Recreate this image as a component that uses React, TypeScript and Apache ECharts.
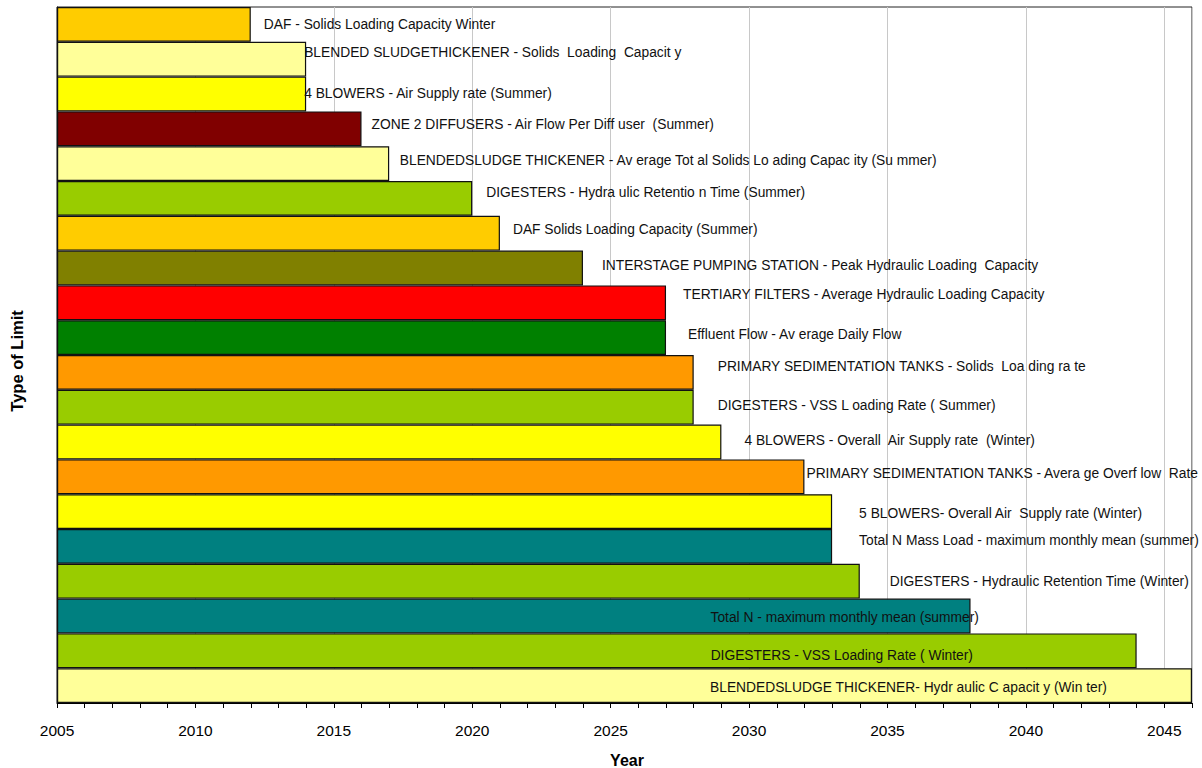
import React, { useEffect, useRef } from "react";
import * as echarts from "echarts";

// Limits, top to bottom, with the year each one is reached
const limitNames: string[] = [
  "DAF - Solids Loading Capacity Winter",
  "BLENDED SLUDGETHICKENER - Solids  Loading  Capacit y",
  "4 BLOWERS - Air Supply rate (Summer)",
  "ZONE 2 DIFFUSERS - Air Flow Per Diff user  (Summer)",
  "BLENDEDSLUDGE THICKENER - Av erage Tot al Solids Lo ading Capac ity (Su mmer)",
  "DIGESTERS - Hydra ulic Retentio n Time (Summer)",
  "DAF Solids Loading Capacity (Summer)",
  "INTERSTAGE PUMPING STATION - Peak Hydraulic Loading  Capacity",
  "TERTIARY FILTERS - Average Hydraulic Loading Capacity",
  "Effluent Flow - Av erage Daily Flow",
  "PRIMARY SEDIMENTATION TANKS - Solids  Loa ding ra te",
  "DIGESTERS - VSS L oading Rate ( Summer)",
  "4 BLOWERS - Overall  Air Supply rate  (Winter)",
  "PRIMARY SEDIMENTATION TANKS - Avera ge Overf low  Rate",
  "5 BLOWERS- Overall Air  Supply rate (Winter)",
  "Total N Mass Load - maximum monthly mean (summer)",
  "DIGESTERS - Hydraulic Retention Time (Winter)",
  "Total N - maximum monthly mean (summer)",
  "DIGESTERS - VSS Loading Rate ( Winter)",
  "BLENDEDSLUDGE THICKENER- Hydr aulic C apacit y (Win ter)",
];

const limitYears: number[] = [
  2012, 2014, 2014, 2016, 2017, 2020, 2021, 2024, 2027, 2027,
  2028, 2028, 2029, 2032, 2033, 2033, 2034, 2038, 2044, 2046,
];

const START_YEAR = 2005;
const END_YEAR = 2046;

// Fill colour of each bar
const barColors: string[] = [
  "#FFCC00", "#FFFF99", "#FFFF00", "#800000", "#FFFF99",
  "#99CC00", "#FFCC00", "#808000", "#FF0000", "#008000",
  "#FF9900", "#99CC00", "#FFFF00", "#FF9900", "#FFFF00",
  "#008080", "#99CC00", "#008080", "#99CC00", "#FFFF99",
];

// Label shift from the end of each bar, [dx, dy] in px
const labelShift: [number, number][] = [
  [13, 0], [-2, -7], [-2, -1], [10, -4], [10.6, -3],
  [14, -6], [13, -4], [19, -3], [17, -8], [22, -3],
  [24, -6], [24, -1.5], [23, -2], [2, -3], [27, 1.5],
  [27, -6], [30, 0], [-260, 1.5], [-426, 5], [-482, 2],
];

const FONT = '"Liberation Sans", Arial, sans-serif';

export default function App() {
  const ref = useRef<HTMLDivElement>(null);

  useEffect(() => {
    if (!ref.current) return;
    const chart = echarts.init(ref.current, undefined, { renderer: "svg" });

    const data = limitYears.map((year, i) => ({
      value: year,
      itemStyle: { color: barColors[i] },
      label: {
        show: true,
        position: "right",
        distance: 0,
        offset: labelShift[i],
        formatter: limitNames[i],
      },
    }));

    chart.setOption({
      animation: false,
      backgroundColor: "#ffffff",
      textStyle: { fontFamily: FONT },
      grid: {
        left: 57,
        right: 10,
        top: 7,
        bottom: 65,
        show: true,
        borderColor: "#222",
        borderWidth: 1,
        backgroundColor: "transparent",
      },
      xAxis: [
        {
          type: "value",
          min: START_YEAR,
          max: END_YEAR,
          interval: 5,
          startValue: START_YEAR,
          position: "bottom",
          axisLine: { show: true, lineStyle: { color: "#000", width: 1 } },
          axisTick: { show: false },
          axisLabel: {
            show: true,
            showMaxLabel: false,
            color: "#000",
            fontSize: 15.5,
            fontFamily: FONT,
            margin: 19,
            formatter: (v: number) => (v % 5 === 0 ? String(v) : ""),
          },
          splitLine: { show: true, lineStyle: { color: "#c8c8c8", width: 1 } },
        },
        {
          type: "value",
          min: START_YEAR,
          max: END_YEAR,
          interval: 1,
          position: "bottom",
          axisLine: { show: false },
          axisTick: {
            show: true,
            inside: false,
            length: 5,
            lineStyle: { color: "#000", width: 1 },
          },
          axisLabel: { show: false },
          splitLine: { show: false },
        },
      ],
      yAxis: {
        type: "category",
        inverse: true,
        data: limitNames,
        axisLine: { show: true, lineStyle: { color: "#000", width: 1.2 } },
        axisTick: { show: false },
        axisLabel: { show: false },
        splitLine: { show: false },
      },
      series: [
        {
          type: "bar",
          xAxisIndex: 0,
          data,
          barCategoryGap: "0%",
          itemStyle: { borderColor: "#111", borderWidth: 1.2 },
          label: {
            color: "#111",
            fontSize: 13.8,
            fontFamily: FONT,
            verticalAlign: "middle",
          },
        },
      ],
      graphic: [
        {
          type: "text",
          x: 627,
          y: 760,
          style: {
            text: "Year",
            font: `bold 16px ${FONT}`,
            fill: "#000",
            textAlign: "center",
            textVerticalAlign: "middle",
          },
        },
        {
          type: "text",
          x: 17,
          y: 361,
          rotation: Math.PI / 2,
          style: {
            text: "Type of Limit",
            font: `bold 16.5px ${FONT}`,
            fill: "#000",
            textAlign: "center",
            textVerticalAlign: "middle",
          },
        },
      ],
    });

    return () => chart.dispose();
  }, []);

  return (
    <div
      ref={ref}
      style={{ position: "fixed", left: 0, top: 0, width: 1202, height: 768, background: "#fff" }}
    />
  );
}
